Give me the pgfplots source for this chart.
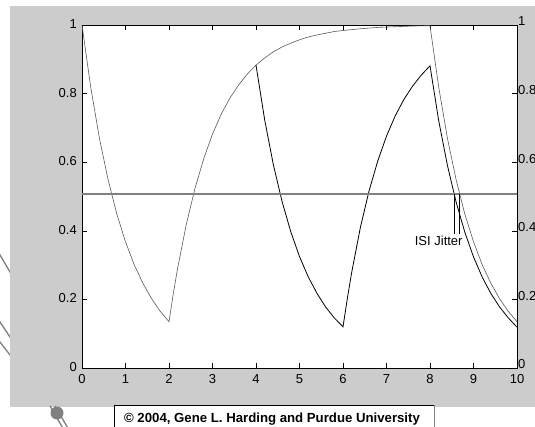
\documentclass[border=0pt]{standalone}
\usepackage{pgfplots}
\pgfplotsset{compat=1.18}
\usepackage{fontspec}
\setmainfont{Liberation Sans}
\definecolor{bg}{HTML}{CCCCCC}
\definecolor{hline}{HTML}{808080}
\definecolor{curveg}{HTML}{5A5A5A}
\begin{document}
\begin{tikzpicture}[x=1pt,y=1pt]
\clip (0,0) rectangle (535,426);
\fill[white] (0,0) rectangle (535,426);
% decorative slide lines
\draw[hline, line width=1.3pt] (-5,179.5) -- (20,137);
\draw[hline, line width=1.3pt] (-5,111.5) -- (20,74);
\draw[hline, line width=1.3pt] (-5,90.5) -- (20,58);
\fill[bg] (10,19) rectangle (535,420);
\draw[hline, line width=1.3pt] (50,20) -- (64,-4);
\draw[hline, line width=1.3pt] (55,20) -- (69,-4);
\fill[hline] (57,13) circle (6.5);
% copyright box
\fill[white] (114,-3) rectangle (434,21);
\draw[black, line width=1pt] (114,-3) -- (114,21) -- (434,21);
\draw[hline, line width=1pt] (434,21) -- (434,-3);
\node[font=\bfseries\fontsize{13.2}{14}\selectfont, anchor=base] at (272,3.5) {© 2004, Gene L. Harding and Purdue University};

\begin{axis}[at={(82pt,58pt)}, anchor=south west, scale only axis,
  width=435pt, height=343pt,
  xmin=0, xmax=10, ymin=0, ymax=1,
  xtick={0,1,2,3,4,5,6,7,8,9,10},
  ytick={0,0.2,0.4,0.6,0.8,1},
  axis background/.style={fill=white},
  tick align=inside, major tick length=5pt,
  tick style={black, line width=0.6pt},
  axis line style={black, line width=0.8pt},
  /pgf/number format/assume math mode=true,
  ticklabel style={font=\fontsize{13}{13}\selectfont},
  xticklabel style={inner sep=0pt, yshift=-6pt},
  yticklabel style={inner sep=0pt, xshift=-5pt, yshift=1pt},
  clip=false]
% gray thin curve (charge/discharge, tau = 1)
\addplot[curveg, line width=0.6pt] coordinates {
(0,1) (0.2,0.819) (0.4,0.670) (0.6,0.549) (0.8,0.449) (1.0,0.368) (1.2,0.301) (1.4,0.247) (1.6,0.202) (1.8,0.165) (2.0,0.135)
(2.1,0.218) (2.2,0.292) (2.4,0.420) (2.6,0.525) (2.8,0.611) (3.0,0.682) (3.2,0.740) (3.4,0.787) (3.6,0.825) (3.8,0.857) (4.0,0.883)
(4.2,0.904) (4.4,0.922) (4.6,0.936) (4.8,0.947) (5.0,0.957) (5.2,0.965) (5.4,0.971) (5.6,0.976) (5.8,0.981) (6.0,0.984)
(6.4,0.989) (6.8,0.993) (7.2,0.995) (7.6,0.997) (8.0,0.998)
(8.2,0.819) (8.4,0.670) (8.6,0.549) (8.8,0.449) (9.0,0.368) (9.2,0.301) (9.4,0.247) (9.6,0.202) (9.8,0.165) (10.0,0.135)
};
% black curve
\addplot[black, line width=0.8pt] coordinates {
(4.0,0.883) (4.2,0.723) (4.4,0.592) (4.6,0.485) (4.8,0.397) (5.0,0.325) (5.2,0.266) (5.4,0.218) (5.6,0.178) (5.8,0.146) (6.0,0.120)
(6.1,0.203) (6.2,0.279) (6.4,0.410) (6.6,0.517) (6.8,0.604) (7.0,0.676) (7.2,0.735) (7.4,0.783) (7.6,0.822) (7.8,0.854) (8.0,0.881)
(8.2,0.721) (8.4,0.591) (8.6,0.484) (8.8,0.396) (9.0,0.324) (9.2,0.265) (9.4,0.217) (9.6,0.178) (9.8,0.146) (10.0,0.119)
};
% threshold
\addplot[hline, line width=1.5pt] coordinates {(0,0.507) (10,0.507)};
% jitter markers
\addplot[black, line width=0.6pt] coordinates {(8.55,0.507) (8.55,0.39)};
\addplot[black, line width=0.6pt] coordinates {(8.68,0.507) (8.68,0.39)};
\node[anchor=north, inner sep=0pt, font=\fontsize{13}{13}\selectfont] at (axis cs:8.2,0.385) {ISI Jitter};
\end{axis}
\begin{axis}[at={(82pt,58pt)}, anchor=south west, scale only axis,
  width=435pt, height=343pt,
  xmin=0, xmax=10, ymin=0, ymax=1,
  hide x axis, axis y line*=right, axis line style={draw=none},
  major tick length=0pt,
  ytick={0,0.2,0.4,0.6,0.8,1},
  /pgf/number format/assume math mode=true,
  yticklabel style={font=\fontsize{13}{13}\selectfont, inner sep=0pt, xshift=1pt, yshift=3.5pt},
  clip=false]
\addplot[draw=none] coordinates {(0,0) (10,1)};
\end{axis}
\end{tikzpicture}
\end{document}
